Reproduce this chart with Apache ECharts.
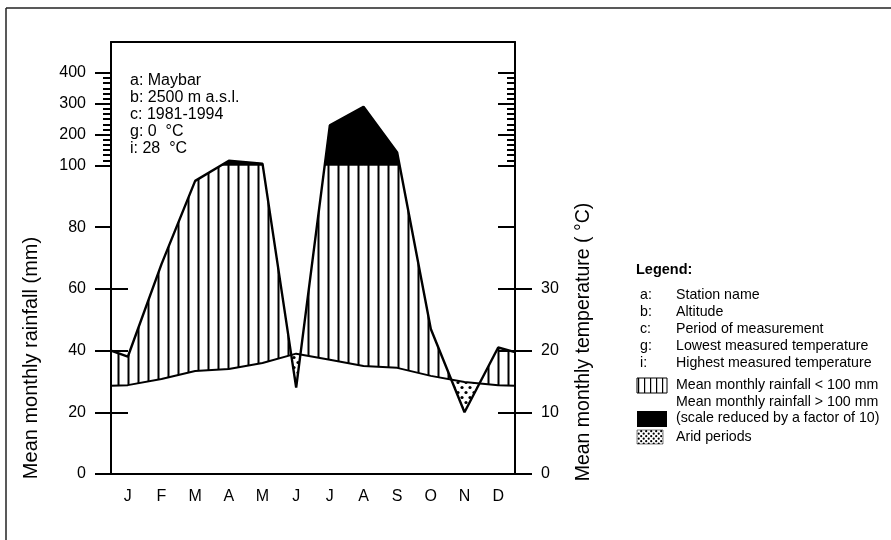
<!DOCTYPE html>
<html>
<head>
<meta charset="utf-8">
<script src="https://cdn.jsdelivr.net/npm/echarts@6/dist/echarts.min.js"></script>
<style>
  html, body { margin: 0; padding: 0; background: #fff; }
  #chart { width: 891px; height: 540px; }
</style>
</head>
<body>
<div id="chart"></div>
<script>
// climate diagram (Walter-Lieth style)
const months = ['J', 'F', 'M', 'A', 'M', 'J', 'J', 'A', 'S', 'O', 'N', 'D'];
// position along the year in months: year start, mid of each month, year end
const yearPos = [0, 0.5, 1.5, 2.5, 3.5, 4.5, 5.5, 6.5, 7.5, 8.5, 9.5, 10.5, 11.5, 12];
// mean monthly rainfall (mm)
const rainfall = [40, 38, 68, 95, 115, 106, 28, 230, 290, 142, 47, 20, 41, 39.5];
// mean monthly temperature (°C)
const temperature = [14.3, 14.4, 15.4, 16.7, 17.0, 18.0, 19.5, 18.5, 17.5, 17.2, 15.9, 14.9, 14.4, 14.3];
const rainTicks = [0, 20, 40, 60, 80, 100, 200, 300, 400];
const tempTicks = [0, 10, 20, 30];
const infoLines = ['a: Maybar', 'b: 2500 m a.s.l.', 'c: 1981-1994', 'g: 0  °C', 'i: 28  °C'];
const legendKeys = ['a:', 'b:', 'c:', 'g:', 'i:'];
const legendNames = ['Station name', 'Altitude', 'Period of measurement',
  'Lowest measured temperature', 'Highest measured temperature'];

const FONT = '"Liberation Sans", Arial, sans-serif';
const LEG_FONT = '14.2px ' + FONT;

// above 100 mm the rain scale is reduced by a factor of 10
function toDisp (v) { return v <= 100 ? v : 100 + (v - 100) / 10; }
function fromDisp (d) { return d <= 100 ? d : 100 + (d - 100) * 10; }

// minor ticks in the reduced part of the scale
let minorTicks = [];
for (let k = 1; k < 18; k++) {
  if (k % 6 !== 0) minorTicks.push(100 + k * 10 / 6);
}

function makePattern (w, h, draw) {
  let c = document.createElement('canvas');
  c.width = w; c.height = h;
  let g = c.getContext('2d');
  draw(g);
  return { image: c, repeat: 'repeat' };
}
const hatchFill = makePattern(10, 10, g => {
  g.fillStyle = '#000';
  g.fillRect(7.5, 0, 2, 10);
});
const dotFill = makePattern(8, 10, g => {
  g.fillStyle = '#fff'; g.fillRect(0, 0, 8, 10);
  g.fillStyle = '#000';
  g.beginPath(); g.arc(2, 2.5, 1.6, 0, Math.PI * 2); g.fill();
  g.beginPath(); g.arc(6, 7.5, 1.6, 0, Math.PI * 2); g.fill();
});
const legendHatch = makePattern(6, 6, g => {
  g.fillStyle = '#fff'; g.fillRect(0, 0, 6, 6);
  g.fillStyle = '#000'; g.fillRect(2, 0, 1.2, 6);
});
const legendDots = makePattern(5, 5, g => {
  g.fillStyle = '#fff'; g.fillRect(0, 0, 5, 5);
  g.fillStyle = '#000';
  g.beginPath(); g.arc(1.2, 1.2, 1.1, 0, Math.PI * 2); g.fill();
  g.beginPath(); g.arc(3.7, 3.7, 1.1, 0, Math.PI * 2); g.fill();
});

// polygons where polyline A lies above polyline B (same x vertices, pixel coords)
function aboveRegions (A, B) {
  let polys = [], top = [], bot = [], dPrev = 0;
  for (let i = 0; i < A.length; i++) {
    let d = B[i][1] - A[i][1];
    if (i > 0 && (dPrev > 0) !== (d > 0)) {
      let t = dPrev / (dPrev - d);
      let c = [A[i - 1][0] + t * (A[i][0] - A[i - 1][0]), A[i - 1][1] + t * (A[i][1] - A[i - 1][1])];
      top.push(c); bot.push(c);
      if (dPrev > 0) {
        polys.push(top.concat(bot.reverse()));
        top = []; bot = [];
      }
    }
    if (d > 0) { top.push(A[i]); bot.push(B[i]); }
    dPrev = d;
  }
  if (top.length) polys.push(top.concat(bot.reverse()));
  return polys;
}

function renderFills (params, api) {
  if (params.dataIndex !== 0) return;
  let R = yearPos.map((x, i) => api.coord([x, toDisp(rainfall[i])]));
  let T = yearPos.map((x, i) => api.coord([x, temperature[i] * 2]));
  let L = yearPos.map(x => api.coord([x, 100]));
  let children = [];
  aboveRegions(R, T).forEach(p => children.push({
    type: 'polygon', shape: { points: p }, style: { fill: hatchFill, stroke: null }
  }));
  aboveRegions(R, L).forEach(p => children.push({
    type: 'polygon', shape: { points: p }, style: { fill: '#000', stroke: '#000', lineWidth: 0.5 }
  }));
  aboveRegions(T, R).forEach(p => children.push({
    type: 'polygon', shape: { points: p }, style: { fill: dotFill, stroke: null }
  }));
  return { type: 'group', children: children };
}

const tickStyle = { color: '#000', width: 2 };
const noLine = { show: false, onZero: false };

let chart = echarts.init(document.getElementById('chart'));

let graphics = [
  { type: 'line', shape: { x1: 6, y1: 8, x2: 891, y2: 8 }, style: { stroke: '#222', lineWidth: 1.5 } },
  { type: 'line', shape: { x1: 6, y1: 8, x2: 6, y2: 540 }, style: { stroke: '#222', lineWidth: 1.5 } },
  {
    type: 'text', x: 31, y: 358, rotation: Math.PI / 2,
    style: { text: 'Mean monthly rainfall (mm)', font: '20px ' + FONT, fill: '#000', align: 'center', verticalAlign: 'middle' }
  },
  {
    type: 'text', x: 584, y: 342, rotation: Math.PI / 2,
    style: { text: 'Mean monthly temperature ( °C)', font: '19.5px ' + FONT, fill: '#000', align: 'center', verticalAlign: 'middle' }
  },
  {
    type: 'text', x: 130, y: 72, z: 10,
    style: { text: infoLines.join('\n'), font: '16px ' + FONT, lineHeight: 17, fill: '#000' }
  },
  {
    type: 'text', x: 636, y: 270,
    style: { text: 'Legend:', font: 'bold 14.5px ' + FONT, fill: '#000', verticalAlign: 'middle' }
  }
];
legendKeys.forEach((k, i) => {
  graphics.push({ type: 'text', x: 640, y: 295 + i * 17,
    style: { text: k, font: LEG_FONT, fill: '#000', verticalAlign: 'middle' } });
  graphics.push({ type: 'text', x: 676, y: 295 + i * 17,
    style: { text: legendNames[i], font: LEG_FONT, fill: '#000', verticalAlign: 'middle' } });
});
graphics.push(
  { type: 'rect', shape: { x: 637, y: 378, width: 30, height: 15 }, style: { fill: legendHatch, stroke: '#000', lineWidth: 1 } },
  { type: 'text', x: 676, y: 385, style: { text: 'Mean monthly rainfall < 100 mm', font: LEG_FONT, fill: '#000', verticalAlign: 'middle' } },
  { type: 'rect', shape: { x: 637, y: 411, width: 30, height: 16 }, style: { fill: '#000' } },
  { type: 'text', x: 676, y: 402, style: { text: 'Mean monthly rainfall > 100 mm', font: LEG_FONT, fill: '#000', verticalAlign: 'middle' } },
  { type: 'text', x: 676, y: 418, style: { text: '(scale reduced by a factor of 10)', font: LEG_FONT, fill: '#000', verticalAlign: 'middle' } },
  { type: 'rect', shape: { x: 637, y: 430, width: 26, height: 14 }, style: { fill: legendDots, stroke: '#000', lineWidth: 0.5 } },
  { type: 'text', x: 676, y: 437, style: { text: 'Arid periods', font: LEG_FONT, fill: '#000', verticalAlign: 'middle' } }
);

chart.setOption({
  animation: false,
  textStyle: { fontFamily: FONT },
  grid: { left: 111, right: 376, top: 42, bottom: 66, containLabel: false },
  xAxis: [
    { type: 'value', min: 0, max: 12, show: false },
    {
      type: 'category', position: 'bottom', data: months, boundaryGap: true,
      axisLine: { onZero: false, lineStyle: tickStyle },
      axisTick: { length: 16, interval: 0, lineStyle: tickStyle },
      axisLabel: { interval: 0, fontSize: 16, color: '#000', margin: 15 },
      splitLine: { show: false }
    },
    {
      type: 'category', position: 'top', data: months, boundaryGap: true,
      axisLine: { onZero: false, lineStyle: tickStyle },
      axisTick: { inside: true, length: 15, interval: 0, lineStyle: tickStyle },
      axisLabel: { show: false },
      splitLine: { show: false }
    }
  ],
  yAxis: [
    {
      type: 'value', position: 'left', min: 0, max: 140, interval: 10,
      axisLine: { show: true, onZero: false, lineStyle: tickStyle },
      axisTick: { customValues: rainTicks.map(toDisp), length: 16, lineStyle: tickStyle },
      axisLabel: {
        customValues: rainTicks.map(toDisp), fontSize: 16, color: '#000', margin: 25,
        formatter: v => String(Math.round(fromDisp(v)))
      },
      splitLine: { show: false }
    },
    {
      type: 'value', position: 'left', min: 0, max: 140, interval: 10,
      axisLine: noLine,
      axisTick: { customValues: minorTicks, length: 8, lineStyle: tickStyle },
      axisLabel: { show: false }, splitLine: { show: false }
    },
    {
      type: 'value', position: 'left', min: 0, max: 70, interval: 10,
      axisLine: noLine,
      axisTick: { customValues: tempTicks.slice(1), inside: true, length: 17, lineStyle: tickStyle },
      axisLabel: { show: false }, splitLine: { show: false }
    },
    {
      type: 'value', position: 'right', min: 0, max: 70, interval: 10,
      axisLine: { show: true, onZero: false, lineStyle: tickStyle },
      axisTick: { customValues: tempTicks, length: 17, lineStyle: tickStyle },
      axisLabel: { customValues: tempTicks, fontSize: 16, color: '#000', margin: 26 },
      splitLine: { show: false }
    },
    {
      type: 'value', position: 'right', min: 0, max: 140, interval: 10,
      axisLine: noLine,
      axisTick: { customValues: rainTicks.slice(1).map(toDisp), inside: true, length: 17, lineStyle: tickStyle },
      axisLabel: { show: false }, splitLine: { show: false }
    },
    {
      type: 'value', position: 'right', min: 0, max: 140, interval: 10,
      axisLine: noLine,
      axisTick: { customValues: minorTicks, inside: true, length: 8, lineStyle: tickStyle },
      axisLabel: { show: false }, splitLine: { show: false }
    }
  ],
  graphic: graphics,
  series: [
    {
      type: 'custom', xAxisIndex: 0, yAxisIndex: 0, silent: true, z: 1,
      renderItem: renderFills, data: [0]
    },
    {
      name: 'Rainfall', type: 'line', xAxisIndex: 0, yAxisIndex: 0, z: 3,
      symbol: 'none', silent: true,
      lineStyle: { color: '#000', width: 2.4 },
      data: yearPos.map((x, i) => [x, toDisp(rainfall[i])])
    },
    {
      name: 'Temperature', type: 'line', xAxisIndex: 0, yAxisIndex: 3, z: 3,
      symbol: 'none', silent: true,
      lineStyle: { color: '#000', width: 2 },
      data: yearPos.map((x, i) => [x, temperature[i]])
    }
  ]
});
</script>
</body>
</html>
